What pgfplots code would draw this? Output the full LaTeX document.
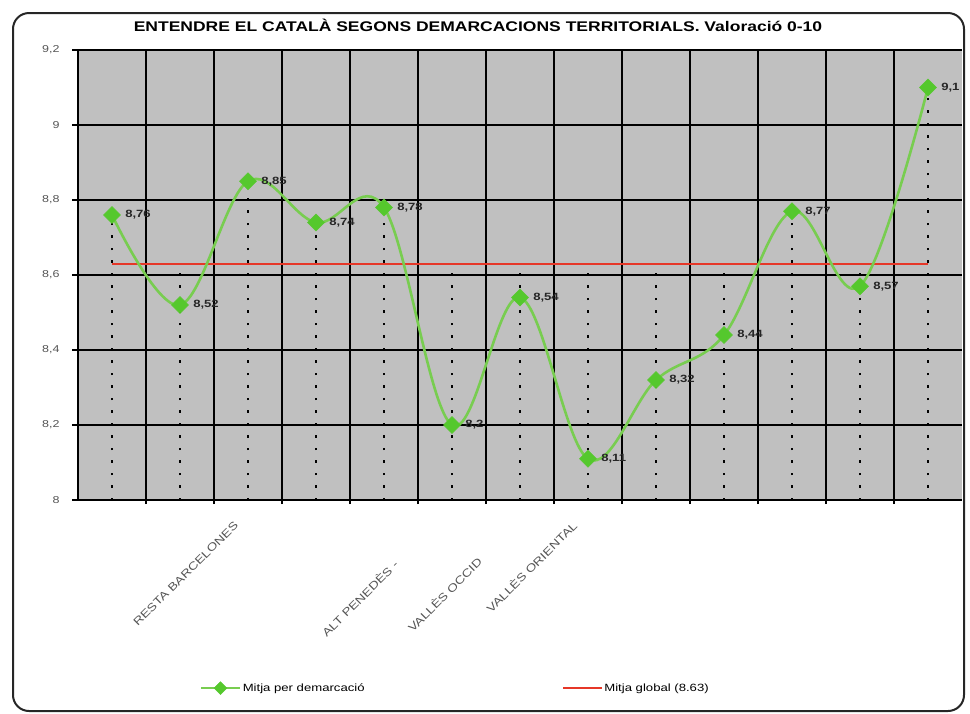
\documentclass[border=0pt]{standalone}
\usepackage{pgfplots}
\pgfplotsset{compat=1.18}
\usepackage{fontspec}
\setmainfont{Liberation Sans}[FakeStretch=1.25]
\definecolor{lineG}{RGB}{120,205,80}
\definecolor{markG}{RGB}{85,200,45}
\definecolor{avgR}{RGB}{230,55,40}
\definecolor{plotBg}{RGB}{192,192,192}
\definecolor{tickGray}{RGB}{85,85,85}
\begin{document}
\begin{tikzpicture}
\useasboundingbox (0pt,0pt) rectangle (970pt,-713pt);
\begin{axis}[
    at={(78pt,-500pt)}, anchor=south west,
    scale only axis, width=884pt, height=450pt,
    xmin=0.5, xmax=13.5, ymin=8, ymax=9.2,
    axis background/.style={fill=plotBg},
    axis x line*=bottom, axis y line*=left,
    axis line style={line width=1.6pt, black},
    tick align=outside, major tick length=6pt, minor tick length=4pt,
    ytick={8,8.2,8.4,8.6,8.8,9,9.2},
    yticklabel style={font=\fontsize{10}{12}\selectfont, text=tickGray, xshift=-9pt,
        /pgf/number format/use comma, /pgf/number format/fixed,
        /pgf/number format/assume math mode=true},
    major tick style={black, line width=1.4pt},
    minor tick style={black, line width=1.4pt},
    ymajorgrids, major grid style={black, line width=1.6pt},
    xtick={3.08,6.0,7.19,8.06},
    xticklabels={RESTA BARCELONES\hspace*{21pt}, ALT PENEDÈS -\hspace*{76pt},
        VALLÈS OCCID\hspace*{72pt}, VALLÈS ORIENTAL\hspace*{21pt}},
    major x tick style={draw=none},
    minor xtick={1.5,2.5,...,12.5},
    xminorgrids, minor grid style={black, line width=1.6pt},
    xticklabel style={rotate=45, anchor=east, font=\fontsize{11}{13}\selectfont, text=tickGray},
    title={ENTENDRE EL CATALÀ SEGONS DEMARCACIONS TERRITORIALS. Valoració 0-10},
    title style={at={(0.4525,1)}, anchor=base, yshift=13pt, font=\bfseries\fontsize{14}{16}\selectfont},
    legend columns=2, reverse legend,
    legend style={at={(0.1346,-0.418)}, anchor=west, draw=none, fill=none,
        font=\fontsize{10.5}{12}\selectfont,
        /tikz/every even column/.append style={column sep=196pt}},
    legend image code/.code={\draw[mark repeat=2, mark phase=2, mark size=4.5pt, #1]
        plot coordinates {(0pt,0pt) (19pt,0pt) (38pt,0pt)};},
]

% dotted drop lines, from the higher of value and global mean down
\addplot[ycomb, black, line width=2.4pt, dash pattern=on 2.5pt off 10pt, forget plot] coordinates {
    (1,8.76) (2,8.63) (3,8.85) (4,8.74) (5,8.78) (6,8.63) (7,8.63)
    (8,8.63) (9,8.63) (10,8.63) (11,8.77) (12,8.63) (13,9.1)
};

\addplot[avgR, line width=1.8pt] coordinates {(1,8.63) (13,8.63)};
\addlegendentry{Mitja global (8.63)}

\addplot[lineG, line width=2.6pt, smooth, tension=0.6,
    mark=square*, mark size=6pt,
    mark options={rotate=45, fill=markG, draw=markG, line width=0.5pt},
    nodes near coords, point meta=explicit symbolic,
    every node near coord/.append style={anchor=west, xshift=13pt, inner sep=0pt,
        font=\bfseries\fontsize{10.5}{12}\selectfont, text=black!85}]
    table[meta=lab] {
x y lab
1 8.76 8,76
2 8.52 8,52
3 8.85 8,85
4 8.74 8,74
5 8.78 8,78
6 8.2 8,2
7 8.54 8,54
8 8.11 8,11
9 8.32 8,32
10 8.44 8,44
11 8.77 8,77
12 8.57 8,57
13 9.1 9,1
};
\addlegendentry{Mitja per demarcació}

\end{axis}
\draw[line width=2pt, rounded corners=16pt, black!85] (13pt,-13pt) rectangle (964pt,-711pt);
\end{tikzpicture}
\end{document}
